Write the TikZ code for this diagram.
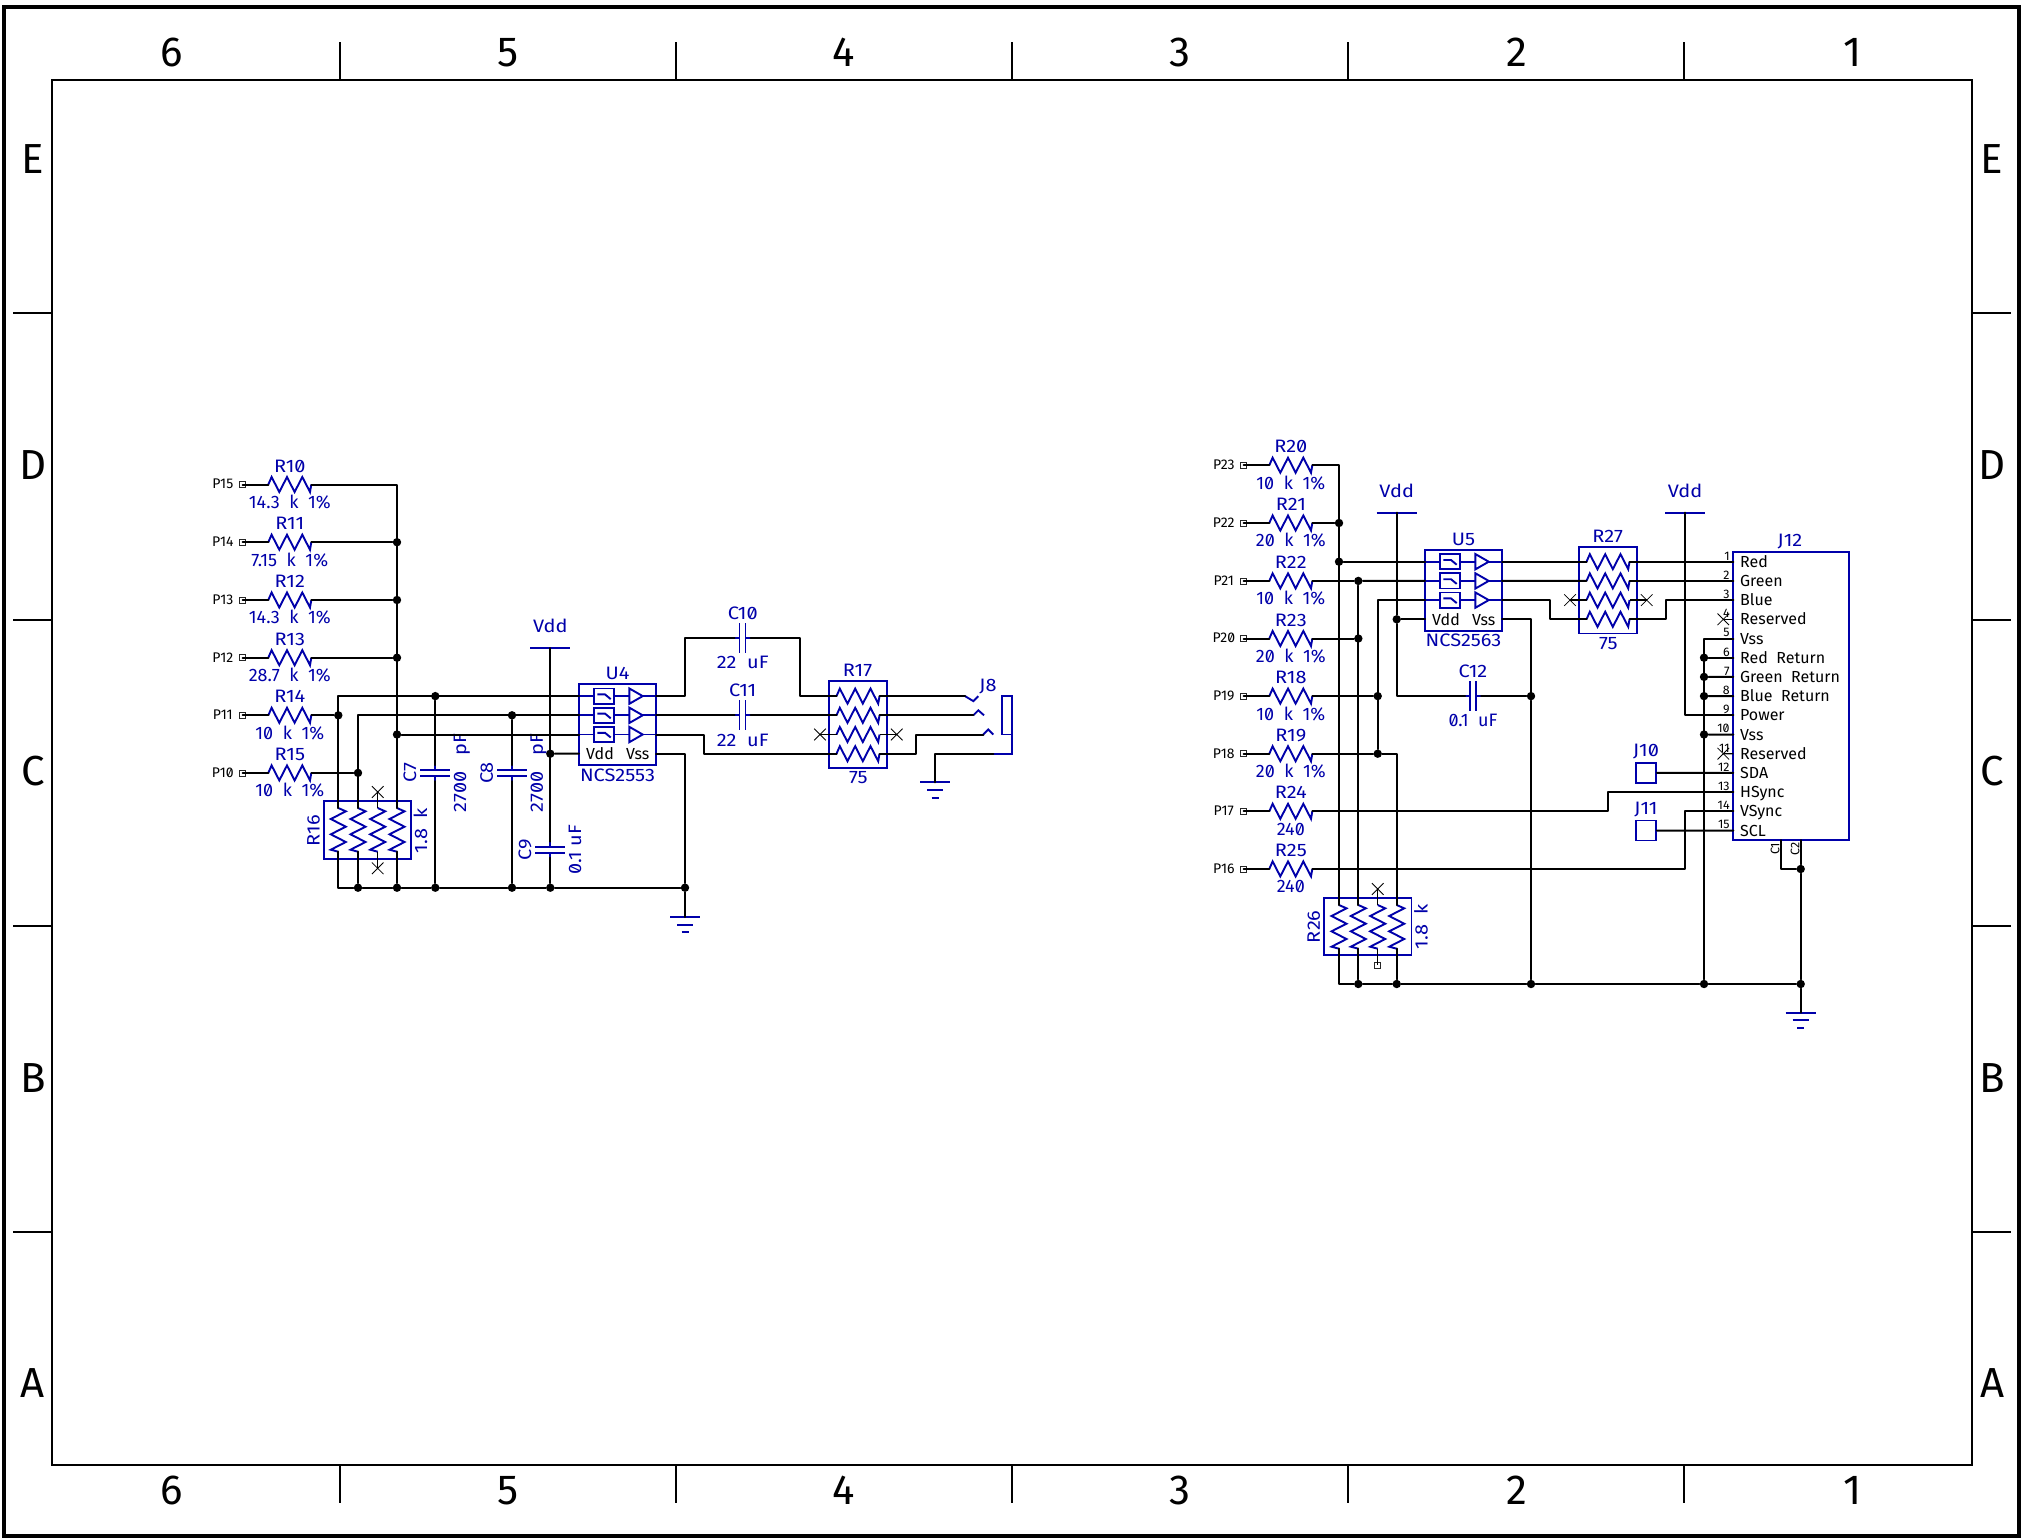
\documentclass[tikz,border=0pt]{standalone}
\usepackage{fontspec}
\setmainfont[Numbers=SlashedZero]{Fira Sans}
\newfontfamily\labfont[Numbers=SlashedZero,FakeStretch=1.11]{Fira Sans}
\usetikzlibrary{shapes.misc}
\definecolor{sch}{RGB}{0,0,170}
\tikzset{
  x=0.5pt,y=-0.5pt,
  wire/.style={black,line width=1pt,line cap=round,line join=round},
  thinwire/.style={black,line width=0.7pt},
  part/.style={sch,line width=0.95pt,line join=miter},
  frameline/.style={black,line width=1pt},
  dot/.style={circle,fill=black,draw=none,minimum size=4.2pt,inner sep=0pt},
  padsq/.style={rectangle,draw=black!85,line width=0.4pt,minimum size=3pt,inner sep=0pt},
  xmark/.style={cross out,draw=black,line width=0.4pt,minimum size=5.4pt,inner sep=0pt},
  lab/.style={text=sch,font=\labfont\fontsize{9}{9}\selectfont,inner sep=0pt,text height=6.2pt,text depth=0pt},
  vallab/.style={text=sch,font=\fontsize{9}{9}\selectfont,inner sep=0pt,text height=6.2pt,text depth=0pt},
  blk/.style={text=black,font=\fontsize{8}{8}\selectfont,inner sep=0pt,text height=5.5pt,text depth=0pt},
  tiny/.style={text=black,font=\fontsize{6.2}{6.2}\selectfont,inner sep=0pt,text height=4.3pt,text depth=0pt},
  frametxt/.style={text=black,font=\fontsize{21}{21}\selectfont,inner sep=0pt,text height=14.6pt,text depth=0pt},
  jbox/.style={rectangle,draw=sch,line width=0.95pt,minimum size=10pt,inner sep=0pt},
  hzig/.pic={
    \coordinate (-a) at (0,0); \coordinate (-b) at (43,0);
    \draw[part] (0,0)--(3.3,-7.5)--(11,7.5)--(18.7,-7.5)--(26.3,7.5)--(34,-7.5)--(41.7,7.5)--(43,0);
  },
  vzig/.pic={
    \coordinate (-a) at (0,0); \coordinate (-b) at (0,43.7);
    \draw[part] (0,0)--(7.5,3.3)--(-7.5,11)--(7.5,18.7)--(-7.5,26.3)--(7.5,34)--(-7.5,41.7)--(0,43.7);
  },
  hcapa/.pic={
    \coordinate (-a) at (-8,0); \coordinate (-b) at (8,0);
    \draw[part] (-8,0)--(-3,0) (-3,-15)--(-3,15) (3,-15)--(3,15) (3,0)--(8,0);
  },
  vcapa/.pic={
    \coordinate (-a) at (0,-8); \coordinate (-b) at (0,8);
    \draw[part] (0,-8)--(0,-3) (-15,-3)--(15,-3) (-15,3)--(15,3) (0,3)--(0,8);
  },
  earth/.pic={
    \coordinate (-p) at (0,0);
    \draw[part] (-15,0)--(15,0) (-8,7.7)--(8,7.7) (-3.5,15.4)--(3.5,15.4);
  },
  rail/.pic={
    \coordinate (-p) at (0,0);
    \draw[part] (-20,0)--(20,0);
    \node[lab] (-txt) at (0,-21.5) {Vdd};
  },
  amp/.pic={
    \coordinate (-in1) at (0,0); \coordinate (-in2) at (0,19.2); \coordinate (-in3) at (0,38.4); \coordinate (-vdd) at (0,57.6);
    \coordinate (-out1) at (77,0); \coordinate (-out2) at (77,19.2); \coordinate (-out3) at (77,38.4); \coordinate (-vss) at (77,57.6);
    \draw[part] (0,-11.8) rectangle (77,68.9);
    \foreach \r in {0,19.2,38.4}{
      \draw[part] (15.3,\r-7.6) rectangle (35,\r+7.6);
      \draw[part] (18.3,\r-1.7)--(26,\r-1.7)--(31.7,\r+3);
      \draw[part] (0,\r)--(15.3,\r) (35,\r)--(50.3,\r) (63.7,\r)--(77,\r);
      \draw[part] (50.3,\r-7.7)--(50.3,\r+7.7)--(63.7,\r)--cycle;
    }
    \node[blk] (-vddtxt) at (21,58.3) {Vdd};
    \node[blk] (-vsstxt) at (58.7,58.3) {Vss};
  },
}
\newcommand{\hres}[5]{% id, net, x, y, value
  \node[padsq] (#1-pad) at (#3-25.7,#4) {};
  \node[tiny,font=\fontsize{7}{7}\selectfont] (#1-net) at (#3-45.5,#4) {#2};
  \pic (#1) at (#3,#4) {hzig};
  \node[lab] (#1-ref) at (#3+21.5,#4-18.7) {#1};
  \node[vallab] (#1-val) at (#3+21.5,#4+17.7) {#5};
  \draw[wire] (#1-pad.center) -- (#1-a);
}
\newcommand{\val}[2]{#1\ \ k\ \ #2}
\begin{document}
\begin{tikzpicture}
\useasboundingbox (0,0) rectangle (2021,1537);
\fill[white] (0,0) rectangle (2021,1537);
% ---------- frame
\draw[black,line width=1.7pt] (4,7) rectangle (2019,1536);
\draw[frameline] (52,80) rectangle (1972,1465);
\foreach \x in {340,676,1012,1348,1684}{
  \draw[frameline] (\x,42) -- (\x,80) (\x,1465) -- (\x,1503);
}
\foreach \y in {313,620,926,1232}{
  \draw[frameline] (13,\y) -- (52,\y) (1972,\y) -- (2011,\y);
}
\foreach \x/\t in {172/6,508.5/5,843.5/4,1180/3,1516.5/2,1852.5/1}{
  \node[frametxt] (top\t) at (\x,52) {\t};
  \node[frametxt] (bot\t) at (\x,1490) {\t};
}
\foreach \y/\t in {158.5/E,465/D,771/C,1077.5/B,1383/A}{
  \node[frametxt] (lef\t) at (33,\y) {\t};
  \node[frametxt] (rig\t) at (1992,\y) {\t};
}
% ---------- left circuit: resistors
\hres{R10}{P15}{268.3}{484.5}{\val{14.3}{1\%}}
\hres{R11}{P14}{268.3}{542.2}{\val{7.15}{1\%}}
\hres{R12}{P13}{268.3}{600}{\val{14.3}{1\%}}
\hres{R13}{P12}{268.3}{657.7}{\val{28.7}{1\%}}
\hres{R14}{P11}{268.3}{715.3}{\val{10}{1\%}}
\hres{R15}{P10}{268.3}{772.9}{\val{10}{1\%}}
% R16
\draw[part] (324.3,801.3) rectangle (411.3,859.3);
\pic (R16A) at (338.3,808) {vzig};
\pic (R16B) at (358,808) {vzig};
\pic (R16C) at (377.7,808) {vzig};
\pic (R16D) at (397,808) {vzig};
\node[lab,rotate=90] (R16-ref) at (313.3,830.5) {R16};
\node[lab,rotate=90] (R16-val) at (421,830.5) {1.8\ \ k};
\node[xmark] (R16x1) at (377.7,792) {};
\node[xmark] (R16x2) at (377.7,868.3) {};
\draw[thinwire] (R16x1.center) -- (R16C-a) (R16C-b) -- (R16x2.center);
% U4
\pic (U4) at (579,696.1) {amp};
\node[lab] (U4-ref) at (617.5,673) {U4};
\node[lab] (U4-val) at (617.5,775) {NCS2553};
% caps
\pic (C7) at (435.3,773) {vcapa};
\node[lab,rotate=90] (C7-ref) at (410,773) {C7};
\node[lab,rotate=90] (C7-val) at (460,773) {2700\ \ \ pF};
\pic (C8) at (512,773) {vcapa};
\node[lab,rotate=90] (C8-ref) at (486.7,773) {C8};
\node[lab,rotate=90] (C8-val) at (536.7,773) {2700\ \ \ pF};
\pic (C9) at (550.3,849.7) {vcapa};
\node[lab,rotate=90] (C9-ref) at (525,849.7) {C9};
\node[lab,rotate=90] (C9-val) at (575,849.7) {0.1\ uF};
\pic (C10) at (742.5,638.3) {hcapa};
\node[lab] (C10-ref) at (742.7,613) {C10};
\node[lab] (C10-val) at (742.7,662.7) {22\ \ uF};
\pic (C11) at (742.5,715.3) {hcapa};
\node[lab] (C11-ref) at (742.7,690) {C11};
\node[lab] (C11-val) at (742.7,740) {22\ \ uF};
\pic (VA) at (550.3,648) {rail};
\pic (GA) at (685,917) {earth};
\pic (GB) at (935,782.3) {earth};
% R17
\draw[part] (829.3,681.3) rectangle (887.3,767.9);
\pic (R17A) at (836.5,696.1) {hzig};
\pic (R17B) at (836.5,715.3) {hzig};
\pic (R17C) at (836.5,734.5) {hzig};
\pic (R17D) at (836.5,753.7) {hzig};
\node[lab] (R17-ref) at (857.5,670.7) {R17};
\node[lab] (R17-val) at (858.3,777.7) {75};
\node[xmark] (R17x1) at (820,734.5) {};
\node[xmark] (R17x2) at (896.7,734.5) {};
\draw[thinwire] (R17x1.center) -- (R17C-a) (R17C-b) -- (R17x2.center);
% J8
\coordinate (J8a) at (965,696.1);
\coordinate (J8b) at (973.3,715.3);
\coordinate (J8c) at (983.3,734.5);
\coordinate (J8d) at (993.3,753.7);
\draw[part] (J8a) -- ++(8.3,5) -- ++(5,-5);
\draw[part] (J8b) -- ++(5,-5) -- ++(5.7,5);
\draw[part] (J8c) -- ++(5,-5) -- ++(5,5);
\draw[part] (1002.3,696.1) rectangle (1012,734.5);
\draw[part] (1012,734.5) -- (1012,753.7) -- (J8d);
\node[lab] (J8-ref) at (988,685) {J8};
% left junctions
\node[dot] (a1) at (397,542.2) {};
\node[dot] (a2) at (397,600) {};
\node[dot] (a3) at (397,657.7) {};
\node[dot] (a4) at (397,734.5) {};
\node[dot] (a5) at (338.3,715.3) {};
\node[dot] (a6) at (358,772.9) {};
\node[dot] (a7) at (435.3,696.1) {};
\node[dot] (a8) at (512,715.3) {};
\node[dot] (a9) at (550.3,753.7) {};
\node[dot] (b1) at (358,887.7) {};
\node[dot] (b2) at (397,887.7) {};
\node[dot] (b3) at (435.3,887.7) {};
\node[dot] (b4) at (512,887.7) {};
\node[dot] (b5) at (550.3,887.7) {};
\node[dot] (b6) at (685,887.7) {};
% left wires
\draw[wire] (R10-b) -| (R16D-a);
\draw[wire] (R11-b) -- (a1);
\draw[wire] (R12-b) -- (a2);
\draw[wire] (R13-b) -- (a3);
\draw[wire] (R14-b) -- (a5);
\draw[wire] (R15-b) -- (a6);
\draw[wire] (R16A-a) |- (U4-in1);
\draw[wire] (R16B-a) |- (U4-in2);
\draw[wire] (a4) -- (U4-in3);
\draw[wire] (R16A-b) |- (b1);
\draw[wire] (R16B-b) -- (b1);
\draw[wire] (R16D-b) -- (b2);
\draw[wire] (b1) -- (b2);
\draw[wire] (b2) -- (b3);
\draw[wire] (b3) -- (b4);
\draw[wire] (b4) -- (b5);
\draw[wire] (b5) -- (b6);
\draw[wire] (a7) -- (C7-a);
\draw[wire] (C7-b) -- (b3);
\draw[wire] (a8) -- (C8-a);
\draw[wire] (C8-b) -- (b4);
\draw[wire] (VA-p) -- (C9-a);
\draw[wire] (C9-b) -- (b5);
\draw[wire] (a9) -- (U4-vdd);
\draw[wire] (U4-vss) -| (b6);
\draw[wire] (b6) -- (GA-p);
\draw[wire] (U4-out1) -- ++(29,0) |- (C10-a);
\draw[wire] (C10-b) -- ++(49,0) |- (R17A-a);
\draw[wire] (U4-out2) -- (C11-a);
\draw[wire] (C11-b) -- (R17B-a);
\draw[wire] (U4-out3) -- ++(48,0) |- (R17D-a);
\draw[wire] (R17A-b) -- (J8a);
\draw[wire] (R17B-b) -- (J8b);
\draw[wire] (R17D-b) -- ++(36.5,0) |- (J8c);
\draw[wire] (J8d) -| (GB-p);
% ---------- right circuit
\hres{R20}{P23}{1269.3}{465.2}{\val{10}{1\%}}
\hres{R21}{P22}{1269.3}{523}{\val{20}{1\%}}
\hres{R22}{P21}{1269.3}{580.9}{\val{10}{1\%}}
\hres{R23}{P20}{1269.3}{638.5}{\val{20}{1\%}}
\hres{R18}{P19}{1269.3}{696.1}{\val{10}{1\%}}
\hres{R19}{P18}{1269.3}{753.7}{\val{20}{1\%}}
\hres{R24}{P17}{1269.3}{811.3}{240}
\hres{R25}{P16}{1269.3}{868.9}{240}
% R26
\draw[part] (1324,897.7) rectangle (1411.5,955.3);
\pic (R26A) at (1339,905) {vzig};
\pic (R26B) at (1358.3,905) {vzig};
\pic (R26C) at (1377.7,905) {vzig};
\pic (R26D) at (1396.7,905) {vzig};
\node[lab,rotate=90] (R26-ref) at (1313.6,926.7) {R26};
\node[lab,rotate=90] (R26-val) at (1421.5,926.7) {1.8\ \ k};
\node[xmark] (R26x) at (1377.7,889) {};
\node[padsq] (R26p) at (1377.7,965) {};
\draw[thinwire] (R26x.center) -- (R26C-a) (R26C-b) -- (R26p.center);
% U5
\pic (U5) at (1425,561.7) {amp};
\node[lab] (U5-ref) at (1463.5,539) {U5};
\node[lab] (U5-val) at (1463.5,640.7) {NCS2563};
\pic (C12) at (1473,696.1) {hcapa};
\node[lab] (C12-ref) at (1473,671) {C12};
\node[vallab] (C12-val) at (1473,720.5) {0.1\ \ uF};
\pic (VB) at (1396.7,512.7) {rail};
\pic (VC) at (1685,512.7) {rail};
\pic (GC) at (1800.7,1012.7) {earth};
% R27
\draw[part] (1579.3,546.9) rectangle (1637.3,633.5);
\pic (R27A) at (1586.5,561.7) {hzig};
\pic (R27B) at (1586.5,580.9) {hzig};
\pic (R27C) at (1586.5,600.1) {hzig};
\pic (R27D) at (1586.5,619.3) {hzig};
\node[lab] (R27-ref) at (1607.7,536.7) {R27};
\node[lab] (R27-val) at (1608.3,643.3) {75};
\node[xmark] (R27x1) at (1570,600.1) {};
\node[xmark] (R27x2) at (1646.7,600.1) {};
\draw[thinwire] (R27x1.center) -- (R27C-a) (R27C-b) -- (R27x2.center);
% J12
\draw[part] (1733.3,552) rectangle (1849,840);
\node[lab] (J12-ref) at (1790,540.7) {J12};
\foreach \i/\t in {1/Red,2/Green,3/Blue,4/Reserved,5/Vss,6/Red\ \ Return,7/Green\ \ Return,8/Blue\ \ Return,9/Power,10/Vss,11/Reserved,12/SDA,13/HSync,14/VSync,15/SCL}{
  \coordinate (J12-\i) at (1733.3,{561.7+19.2*(\i-1)});
  \node[blk,anchor=west] (J12-t\i) at (1739.7,{561.7+19.2*(\i-1)}) {\t};
  \node[tiny,anchor=east] (J12-n\i) at (1730,{555.7+19.2*(\i-1)}) {\i};
}
\node[xmark] (J12x4) at (1723.3,619.3) {};
\node[xmark] (J12x11) at (1723.3,753.7) {};
\draw[thinwire] (J12x4.center) -- (J12-4);
\draw[thinwire] (J12x11.center) -- (J12-11);
\node[jbox] (J10) at (1646,772.9) {};
\node[lab] (J10-ref) at (1646,750.7) {J10};
\node[jbox] (J11) at (1646,830.5) {};
\node[lab] (J11-ref) at (1646,808.7) {J11};
\coordinate (J12c1) at (1781,840);
\coordinate (J12c2) at (1800.7,840);
\node[tiny,rotate=90] (C1-txt) at (1775,849) {C1};
\node[tiny,rotate=90] (C2-txt) at (1795,849) {C2};
% right junctions
\node[dot] (c1) at (1339,523) {};
\node[dot] (c2) at (1339,561.7) {};
\node[dot] (c3) at (1358.3,580.9) {};
\node[dot] (c4) at (1358.3,638.5) {};
\node[dot] (c5) at (1377.7,696.1) {};
\node[dot] (c6) at (1377.7,753.7) {};
\node[dot] (c7) at (1396.7,619.3) {};
\node[dot] (c8) at (1531,696.1) {};
\node[dot] (e1) at (1358.3,984) {};
\node[dot] (e2) at (1396.7,984) {};
\node[dot] (e3) at (1531,984) {};
\node[dot] (e4) at (1704,984) {};
\node[dot] (e5) at (1800.7,984) {};
\node[dot] (e6) at (1800.7,869) {};
\node[dot] (f6) at (1704,657.7) {};
\node[dot] (f7) at (1704,676.9) {};
\node[dot] (f8) at (1704,696.1) {};
\node[dot] (f10) at (1704,734.5) {};
% right wires
\draw[wire] (R20-b) -| (R26A-a);
\draw[wire] (R21-b) -- (c1);
\draw[wire] (c2) -- (U5-in1);
\draw[wire] (R22-b) -- (c3);
\draw[wire] (c3) -- (U5-in2);
\draw[wire] (R23-b) -- (c4);
\draw[wire] (c3) -- (R26B-a);
\draw[wire] (R18-b) -- (c5);
\draw[wire] (R19-b) -- (c6);
\draw[wire] (c6) |- (U5-in3);
\draw[wire] (c6) -| (R26D-a);
\draw[wire] (VB-p) -- (c7);
\draw[wire] (c7) -- (U5-vdd);
\draw[wire] (c7) |- (C12-a);
\draw[wire] (C12-b) -- (c8);
\draw[wire] (U5-vss) -| (c8);
\draw[wire] (c8) -- (e3);
\draw[wire] (R26A-b) |- (e1);
\draw[wire] (R26B-b) -- (e1);
\draw[wire] (R26D-b) -- (e2);
\draw[wire] (e1) -- (e2);
\draw[wire] (e2) -- (e3);
\draw[wire] (e3) -- (e4);
\draw[wire] (e4) -- (e5);
\draw[wire] (e5) -- (GC-p);
\draw[wire] (U5-out1) -- (R27A-a);
\draw[wire] (U5-out2) -- (R27B-a);
\draw[wire] (U5-out3) -- ++(47.7,0) |- (R27D-a);
\draw[wire] (R27A-b) -- (J12-1);
\draw[wire] (R27B-b) -- (J12-2);
\draw[wire] (R27D-b) -- ++(36.5,0) |- (J12-3);
\draw[wire] (J12-5) -| (e4);
\draw[wire] (f6) -- (J12-6);
\draw[wire] (f7) -- (J12-7);
\draw[wire] (f8) -- (J12-8);
\draw[wire] (f10) -- (J12-10);
\draw[wire] (J12-9) -| (VC-p);
\draw[wire] (J10) -- (J12-12);
\draw[wire] (J11) -- (J12-15);
\draw[wire] (R24-b) -- ++(295.4,0) |- (J12-13);
\draw[wire] (R25-b) -- ++(372.7,0) |- (J12-14);
\draw[wire] (J12c1) |- (e6);
\draw[wire] (J12c2) -- (e6);
\draw[wire] (e6) -- (e5);
\end{tikzpicture}
\end{document}
